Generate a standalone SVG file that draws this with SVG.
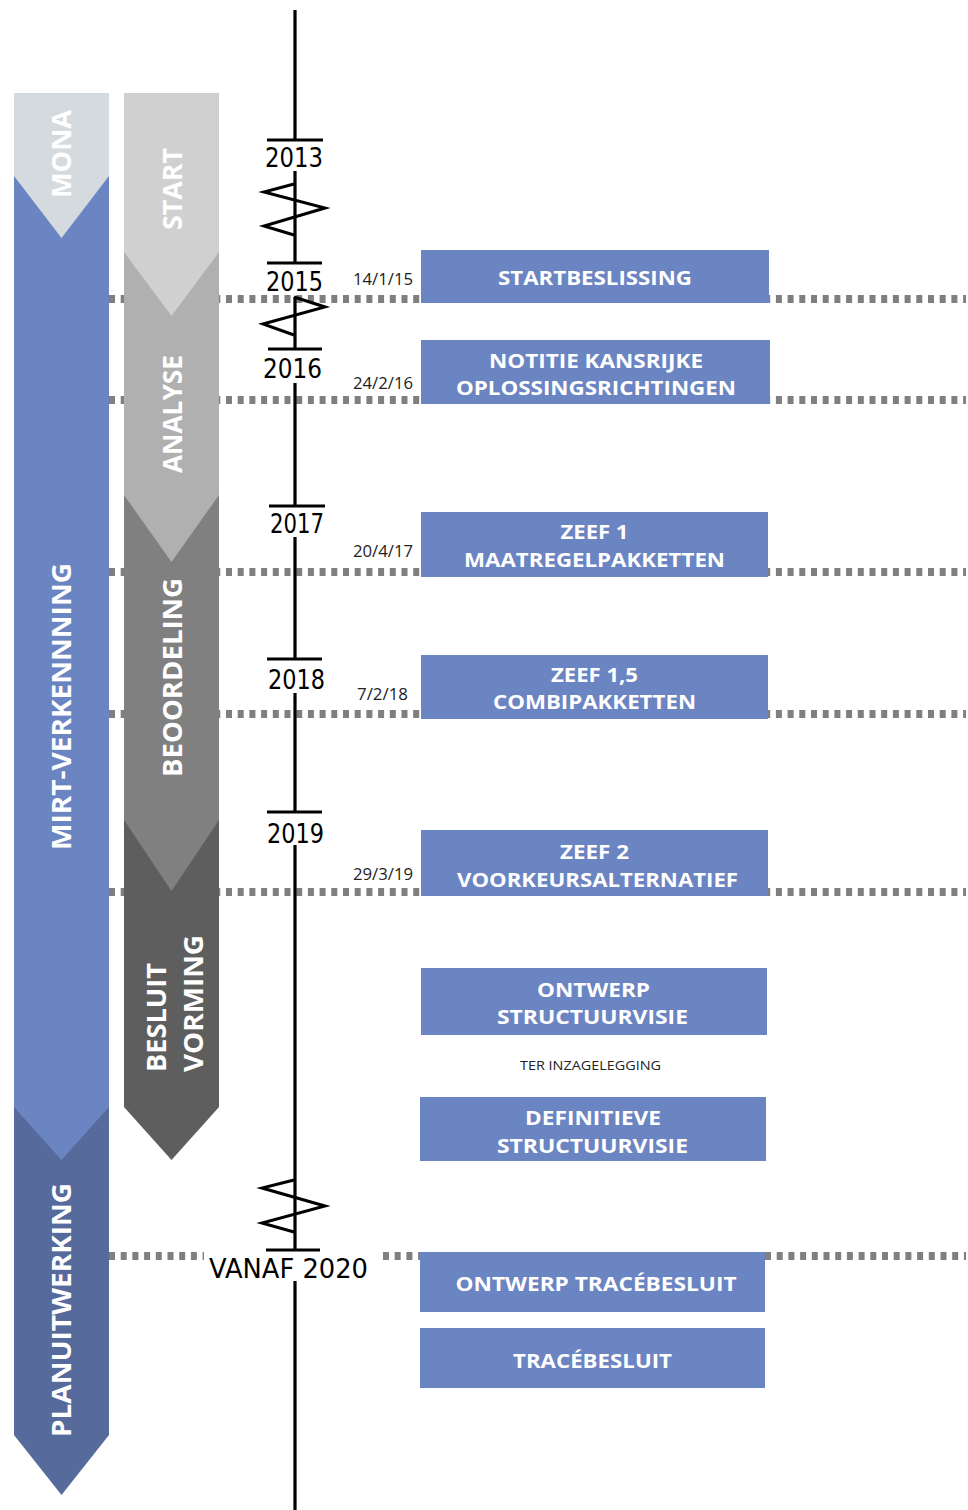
<svg xmlns="http://www.w3.org/2000/svg" width="968" height="1510" viewBox="0 0 968 1510">
<style>
.dash{stroke:#7f7f7f;stroke-width:8;stroke-dasharray:6 5.7;fill:none}
.box{fill:#6b84c2}
.bt{font-family:"Open Sans","DejaVu Sans",sans-serif;font-weight:bold;font-size:19px;fill:#fff;text-anchor:middle}
.col{font-family:"Open Sans","DejaVu Sans",sans-serif;font-weight:bold;font-size:27.5px;fill:#fff}
.yr{font-family:"DejaVu Sans",sans-serif;font-size:27px;fill:#000}
.dt{font-family:"Open Sans","Liberation Sans",sans-serif;font-size:16px;fill:#222;text-anchor:end}
.tl{stroke:#000;stroke-width:3.2;fill:none}
.zz{stroke:#000;stroke-width:3;fill:none;stroke-linejoin:miter}
</style>
<rect width="968" height="1510" fill="#fff"/>

<g id="connectors">
<line class="dash" x1="109" y1="299" x2="966" y2="299"/>
<line class="dash" x1="109" y1="400" x2="966" y2="400"/>
<line class="dash" x1="109" y1="572" x2="966" y2="572"/>
<line class="dash" x1="109" y1="714" x2="966" y2="714"/>
<line class="dash" x1="109" y1="892" x2="966" y2="892"/>
<line class="dash" x1="109" y1="1256" x2="204" y2="1256"/>
<line class="dash" x1="383" y1="1256" x2="420" y2="1256"/>
<line class="dash" x1="765" y1="1256" x2="966" y2="1256"/>
</g>

<g id="col-planuitwerking">
<polygon points="14,1100 109,1100 109,1435 61.5,1495 14,1435" fill="#576a9c"/>
<text class="col" transform="translate(71,1310) rotate(-90)" text-anchor="middle" textLength="254" lengthAdjust="spacingAndGlyphs">PLANUITWERKING</text>
</g>
<g id="col-mirt">
<polygon points="14,160 109,160 109,1107 61.5,1160 14,1107" fill="#6b84c2"/>
<text class="col" transform="translate(71,706.5) rotate(-90)" text-anchor="middle" textLength="287" lengthAdjust="spacingAndGlyphs">MIRT-VERKENNNING</text>
</g>
<g id="col-mona">
<polygon points="14,93 109,93 109,176 61.5,238 14,176" fill="#d5dade"/>
<text class="col" transform="translate(71,154) rotate(-90)" text-anchor="middle" textLength="88" lengthAdjust="spacingAndGlyphs">MONA</text>
</g>

<g id="col-besluitvorming">
<polygon points="124,815 219,815 219,1107 171.5,1160 124,1107" fill="#5e5e5e"/>
<text class="col" transform="translate(166,1072) rotate(-90)" textLength="109" lengthAdjust="spacingAndGlyphs">BESLUIT</text>
<text class="col" transform="translate(203,1072) rotate(-90)" textLength="137" lengthAdjust="spacingAndGlyphs">VORMING</text>
</g>
<g id="col-beoordeling">
<polygon points="124,490 219,490 219,820 171.5,891 124,820" fill="#808080"/>
<text class="col" transform="translate(182,677.5) rotate(-90)" text-anchor="middle" textLength="199" lengthAdjust="spacingAndGlyphs">BEOORDELING</text>
</g>
<g id="col-analyse">
<polygon points="124,245 219,245 219,495 171.5,562 124,495" fill="#b0b0b0"/>
<text class="col" transform="translate(182,414) rotate(-90)" text-anchor="middle" textLength="118" lengthAdjust="spacingAndGlyphs">ANALYSE</text>
</g>
<g id="col-start">
<polygon points="124,93 219,93 219,252 171.5,316 124,252" fill="#d0d0d0"/>
<text class="col" transform="translate(182,189) rotate(-90)" text-anchor="middle" textLength="82" lengthAdjust="spacingAndGlyphs">START</text>
</g>

<g id="timeline">
<line class="tl" x1="295" y1="10" x2="295" y2="141"/>
<line class="tl" x1="295" y1="171" x2="295" y2="264"/>
<line class="tl" x1="295" y1="297" x2="295" y2="350"/>
<line class="tl" x1="295" y1="383" x2="295" y2="507"/>
<line class="tl" x1="295" y1="537" x2="295" y2="660"/>
<line class="tl" x1="295" y1="693" x2="295" y2="812"/>
<line class="tl" x1="295" y1="845" x2="295" y2="1250"/>
<line class="tl" x1="295" y1="1281" x2="295" y2="1510"/>
<line class="tl" x1="267" y1="140" x2="323" y2="140"/>
<line class="tl" x1="267" y1="263" x2="322" y2="263"/>
<line class="tl" x1="268" y1="349" x2="322" y2="349"/>
<line class="tl" x1="269" y1="506" x2="325" y2="506"/>
<line class="tl" x1="267" y1="659" x2="322" y2="659"/>
<line class="tl" x1="267" y1="812" x2="322" y2="812"/>
<line class="tl" x1="266" y1="1250" x2="320" y2="1250"/>
<polyline class="zz" points="294,184 264,192 325,208 264,226 294,235"/>
<polyline class="zz" points="294,297 325,307 263,324 294,335"/>
<polyline class="zz" points="294,1180 262,1188 325,1206 262,1223 294,1232"/>
<text class="yr" x="265" y="167" textLength="58" lengthAdjust="spacingAndGlyphs">2013</text>
<text class="yr" x="266" y="291" textLength="57" lengthAdjust="spacingAndGlyphs">2015</text>
<text class="yr" x="263" y="378" textLength="59" lengthAdjust="spacingAndGlyphs">2016</text>
<text class="yr" x="270" y="533" textLength="54" lengthAdjust="spacingAndGlyphs">2017</text>
<text class="yr" x="268" y="689" textLength="57" lengthAdjust="spacingAndGlyphs">2018</text>
<text class="yr" x="267" y="843" textLength="57" lengthAdjust="spacingAndGlyphs">2019</text>
<text class="yr" x="209" y="1278" textLength="159" lengthAdjust="spacingAndGlyphs">VANAF 2020</text>
</g>

<g id="dates">
<text class="dt" x="413" y="285" textLength="60" lengthAdjust="spacingAndGlyphs">14/1/15</text>
<text class="dt" x="413" y="389" textLength="60" lengthAdjust="spacingAndGlyphs">24/2/16</text>
<text class="dt" x="413" y="557" textLength="60" lengthAdjust="spacingAndGlyphs">20/4/17</text>
<text class="dt" x="408" y="700" textLength="51" lengthAdjust="spacingAndGlyphs">7/2/18</text>
<text class="dt" x="413" y="880" textLength="60" lengthAdjust="spacingAndGlyphs">29/3/19</text>
</g>

<g id="node-startbeslissing">
<rect class="box" x="421" y="250" width="348" height="53"/>
<text class="bt" x="595" y="285" textLength="194" lengthAdjust="spacingAndGlyphs">STARTBESLISSING</text>
</g>
<g id="node-notitie">
<rect class="box" x="421" y="340" width="349" height="64"/>
<text class="bt" x="596" y="368" textLength="214" lengthAdjust="spacingAndGlyphs">NOTITIE KANSRIJKE</text>
<text class="bt" x="596" y="395" textLength="280" lengthAdjust="spacingAndGlyphs">OPLOSSINGSRICHTINGEN</text>
</g>
<g id="node-zeef1">
<rect class="box" x="421" y="512" width="347" height="65"/>
<text class="bt" x="594.5" y="539" textLength="68" lengthAdjust="spacingAndGlyphs">ZEEF 1</text>
<text class="bt" x="594.5" y="567" textLength="261" lengthAdjust="spacingAndGlyphs">MAATREGELPAKKETTEN</text>
</g>
<g id="node-zeef15">
<rect class="box" x="421" y="655" width="347" height="64"/>
<text class="bt" x="594.5" y="682" textLength="87" lengthAdjust="spacingAndGlyphs">ZEEF 1,5</text>
<text class="bt" x="594.5" y="709" textLength="203" lengthAdjust="spacingAndGlyphs">COMBIPAKKETTEN</text>
</g>
<g id="node-zeef2">
<rect class="box" x="421" y="830" width="347" height="66"/>
<text class="bt" x="594.5" y="859" textLength="69" lengthAdjust="spacingAndGlyphs">ZEEF 2</text>
<text class="bt" x="597.5" y="887" textLength="281" lengthAdjust="spacingAndGlyphs">VOORKEURSALTERNATIEF</text>
</g>
<g id="node-ontwerp-structuurvisie">
<rect class="box" x="421" y="968" width="346" height="67"/>
<text class="bt" x="593.5" y="997" textLength="113" lengthAdjust="spacingAndGlyphs">ONTWERP</text>
<text class="bt" x="592.5" y="1024" textLength="191" lengthAdjust="spacingAndGlyphs">STRUCTUURVISIE</text>
</g>
<text id="ter-inzagelegging" x="590.5" y="1070" font-family="Open Sans, Liberation Sans, sans-serif" font-size="13" fill="#222" text-anchor="middle" textLength="141" lengthAdjust="spacingAndGlyphs">TER INZAGELEGGING</text>
<g id="node-definitieve-structuurvisie">
<rect class="box" x="420" y="1097" width="346" height="64"/>
<text class="bt" x="593" y="1125" textLength="136" lengthAdjust="spacingAndGlyphs">DEFINITIEVE</text>
<text class="bt" x="592.5" y="1153" textLength="191" lengthAdjust="spacingAndGlyphs">STRUCTUURVISIE</text>
</g>
<g id="node-ontwerp-tracebesluit">
<rect class="box" x="420" y="1252" width="345" height="60"/>
<text class="bt" x="596" y="1291" textLength="281" lengthAdjust="spacingAndGlyphs">ONTWERP TRACÉBESLUIT</text>
</g>
<g id="node-tracebesluit">
<rect class="box" x="420" y="1328" width="345" height="60"/>
<text class="bt" x="592.5" y="1368" textLength="159" lengthAdjust="spacingAndGlyphs">TRACÉBESLUIT</text>
</g>
</svg>
